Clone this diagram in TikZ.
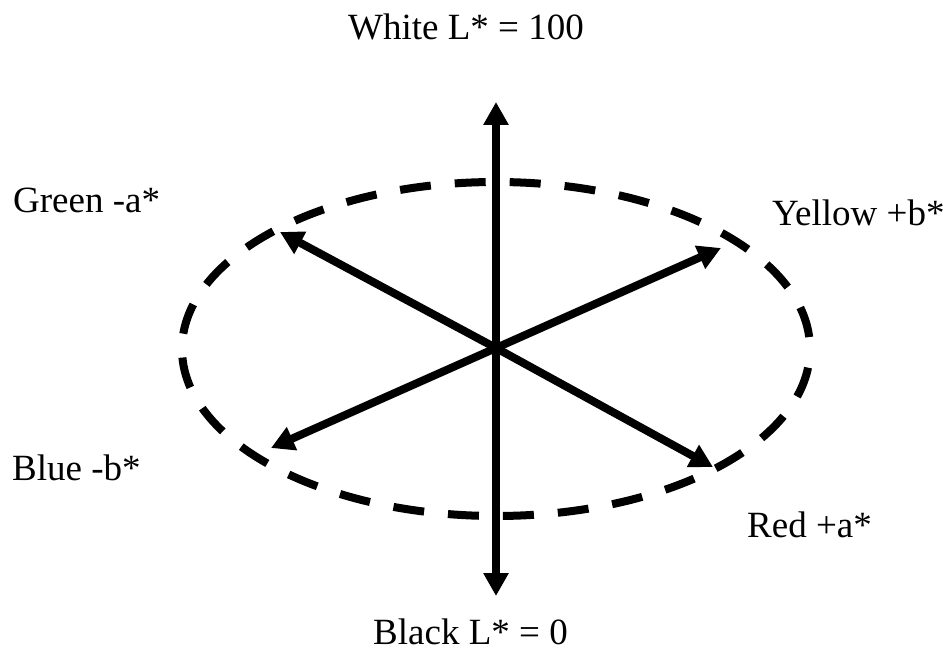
\documentclass[tikz,border=0pt]{standalone}
\usepackage{fontspec}
\setmainfont{Liberation Serif}
\usepackage{tikz}
\usetikzlibrary{arrows.meta}
\definecolor{ink}{HTML}{000000}
\tikzset{axislabel/.style={inner sep=0pt,anchor=base west,text=ink,
  font=\fontsize{37pt}{44pt}\selectfont},
  ring/.style={draw=ink,line width=8pt,dash pattern=on 31pt off 24pt,dash phase=43pt},
  axis/.style={-{Triangle[length=23pt,width=24pt]},line width=8pt,draw=ink}}

\begin{document}
\begin{tikzpicture}[x=1pt,y=-1pt]
\useasboundingbox (0,0) rectangle (948,652);
\coordinate (origin) at (496,348);
\coordinate (ringc) at (496,349);
\coordinate (top) at (496,102);
\coordinate (bottom) at (496,596);
\coordinate (green) at (280,232);
\coordinate (yellow) at (721,248);
\coordinate (red) at (713,467);
\coordinate (blue) at (271,448);
\draw[ring] (ringc) ellipse [x radius=314pt,y radius=167pt];
\draw[axis,{Triangle[length=23pt,width=24pt]}-{Triangle[length=23pt,width=24pt]}] (top) -- (bottom);
\draw[axis] (origin) -- (green);
\draw[axis] (origin) -- (yellow);
\draw[axis] (origin) -- (red);
\draw[axis] (origin) -- (blue);
\node[axislabel] (white) at (348,40) {White L* = 100};
\node[axislabel] (black) at (373,644) {Black L* = 0};
\node[axislabel] (greenlab) at (13,213) {Green -a*};
\node[axislabel] (yellowlab) at (772,226) {Yellow +b*};
\node[axislabel] (redlab) at (747,537) {Red +a*};
\node[axislabel] (bluelab) at (12,480) {Blue -b*};
\end{tikzpicture}
\end{document}
